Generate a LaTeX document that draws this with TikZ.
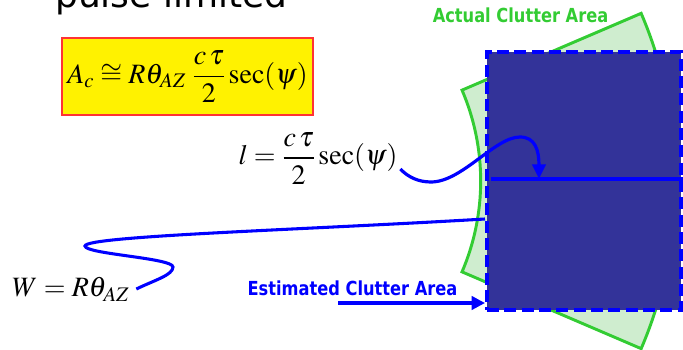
\documentclass[tikz,border=0pt]{standalone}
\usepackage{amsmath}
\usepackage{mathptmx}
\usepackage[no-math]{fontspec}
\newfontfamily\verd{DejaVu Sans}
\usetikzlibrary{arrows.meta,calc}
\definecolor{ClutBlue}{HTML}{333399}
\definecolor{LineBlue}{HTML}{0000FF}
\definecolor{ClutGreen}{HTML}{33CC33}
\definecolor{ClutGreenLight}{HTML}{CFEDCF}
\definecolor{BoxRed}{HTML}{FF3333}
\newcommand{\narrowtag}[1]{\scalebox{0.84}[1]{#1}}

\begin{document}
\begin{tikzpicture}[
  x=0.75pt,y=0.75pt,>=Latex,
  lead/.style={draw=LineBlue,line width=2.3pt},
  pointer/.style={lead,line width=2.4pt,-{Triangle[length=10pt,width=10pt]}},
  actual/.style={draw=ClutGreen,fill=ClutGreenLight,line width=2.2pt,line join=miter},
  estarea/.style={draw=LineBlue,fill=ClutBlue,line width=3pt,
    dash pattern=on 9pt off 4pt,inner sep=0pt,
    minimum width=145.5pt,minimum height=193.5pt},
  formbox/.style={draw=BoxRed,fill=yellow,line width=0.8pt,inner sep=0pt,
    minimum width=188.25pt,minimum height=57.75pt,
    font=\fontsize{21}{25}\selectfont},
  mathtext/.style={inner sep=0pt,font=\fontsize{21}{25}\selectfont},
  tag/.style={inner sep=0pt,font=\verd\bfseries\fontsize{14.5}{16}\selectfont},
  headline/.style={inner sep=0pt,font=\verd\fontsize{27}{30}\selectfont}
]
\useasboundingbox (0,0) rectangle (683,350);

% title, cut off by the top edge
\node[headline,anchor=base west] (pulse) at (55,342.5) {pulse limited};

% area formula
\node[formbox] (acbox) at (187.5,273.5)
  {$A_c\cong R\theta_{AZ}\;\dfrac{c\,\tau}{2}\sec(\psi)$};

% actual clutter area: annular sector seen from the radar on the left
\coordinate (radar) at (250,169);
\filldraw[actual] ($(radar)+(-23.2:230.7)$) -- ($(radar)+(-23.2:425.6)$)
  arc[start angle=-23.2,end angle=23.2,radius=425.6]
  -- ($(radar)+(23.2:230.7)$)
  arc[start angle=23.2,end angle=-23.2,radius=230.7] -- cycle;
\node[tag,text=ClutGreen,anchor=base] (actual) at (520.5,327)
  {\narrowtag{Actual Clutter Area}};

% estimated clutter area
\node[estarea] (est) at (584,169) {};
\coordinate (lhit) at (539,171);
\draw[lead] ([xshift=4.5pt]est.west |- lhit) -- (est.east |- lhit);

% range extent l
\node[mathtext,anchor=base] (lform) at (318,185)
  {$l=\dfrac{c\,\tau}{2}\sec(\psi)$};
\draw[pointer,-{Triangle[length=11pt,width=10pt]}]
  ([shift={(2pt,-3pt)}]lform.base east)
  .. controls (408,173) and (418,168) .. (431,168)
  .. controls (462,168) and (495,213) .. (520,213)
  .. controls (535,213) and (539,200) .. (lhit);

% cross-range width W
\node[mathtext,anchor=base west] (wform) at (12,53) {$W=R\theta_{AZ}$};
\coordinate (wend) at (est.west |- 0,131);
\draw[lead] ([shift={(5pt,6pt)}]wform.base east)
  .. controls (155,70) and (173,75) .. (173,83)
  .. controls (173,92) and (85,96) .. (85,104)
  .. controls (85,114) and (300,120) .. (wend);

% label and pointer for the estimate
\node[tag,text=LineBlue,anchor=base] (estlabel) at (352.5,54)
  {\narrowtag{Estimated Clutter Area}};
\coordinate (estfrom) at (338,47);
\draw[pointer] (estfrom) -- (est.west |- estfrom);

\end{tikzpicture}
\end{document}
